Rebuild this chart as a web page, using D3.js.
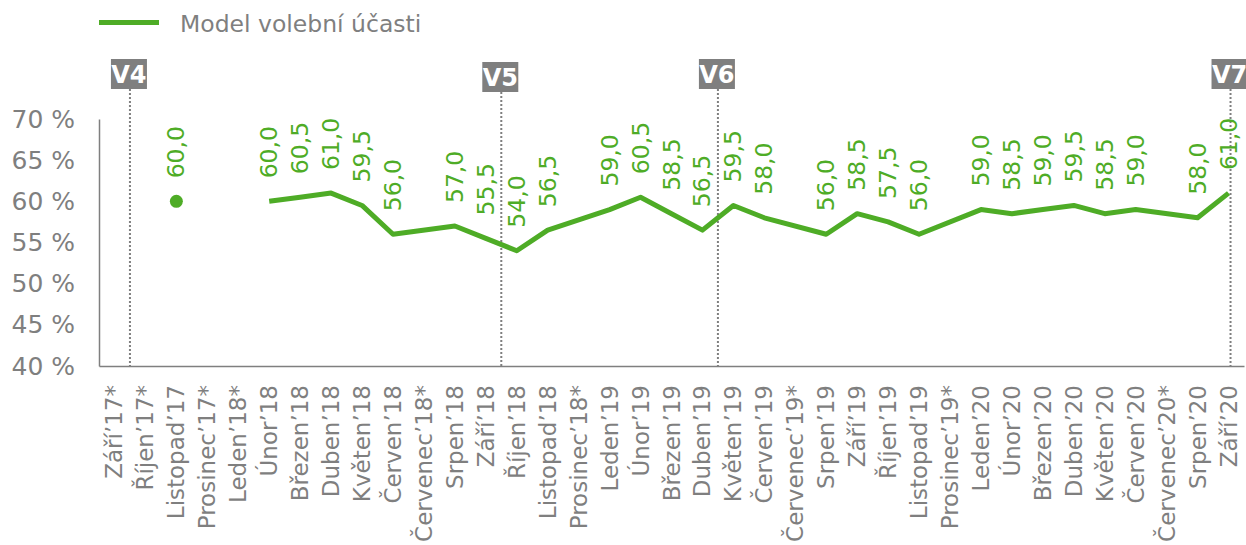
<!DOCTYPE html>
<html>
<head>
<meta charset="utf-8">
<script src="https://cdn.jsdelivr.net/npm/d3@7"></script>
<style>
  body { margin: 0; background: #fff; }
  svg text { font-family: "DejaVu Sans", Verdana, sans-serif; }
</style>
</head>
<body>
<div id="chart"></div>
<script>
// categories (months), * = no survey that month
var months = ["Září’17*", "Říjen’17*", "Listopad’17", "Prosinec’17*", "Leden’18*", "Únor’18",
    "Březen’18", "Duben’18", "Květen’18", "Červen’18", "Červenec’18*", "Srpen’18", "Září’18",
    "Říjen’18", "Listopad’18", "Prosinec’18*", "Leden’19", "Únor’19", "Březen’19", "Duben’19",
    "Květen’19", "Červen’19", "Červenec’19*", "Srpen’19", "Září’19", "Říjen’19", "Listopad’19",
    "Prosinec’19*", "Leden’20", "Únor’20", "Březen’20", "Duben’20", "Květen’20", "Červen’20",
    "Červenec’20*", "Srpen’20", "Září’20"];

// model volební účasti (%)
var turnout = [null, null, 60.0, null, null, 60.0,
    60.5, 61.0, 59.5, 56.0, null, 57.0, 55.5,
    54.0, 56.5, null, 59.0, 60.5, 58.5, 56.5,
    59.5, 58.0, null, 56.0, 58.5, 57.5, 56.0,
    null, 59.0, 58.5, 59.0, 59.5, 58.5, 59.0,
    null, 58.0, 61.0];

var yTicks = [40, 45, 50, 55, 60, 65, 70];

// vlny výzkumu
var waveNames = ["V4", "V5", "V6", "V7"];
var waveAt = ["Září’17*", "Září’18", "Duben’19", "Září’20"];
var waveBetween = [true, true, true, false];

var seriesName = "Model volební účasti";

var width = 1246,
    height = 545;
var green = "#4eac26",
    grey = "#7f7f7f";

var svg = d3.select("#chart")
    .append("svg")
    .attr("width", width)
    .attr("height", height);

var x = d3.scaleBand()
    .domain(months)
    .range([99, 1244]);

var y = d3.scaleLinear()
    .domain([40, 70])
    .range([366, 119]);

function cx(m) {
    return x(m) + x.bandwidth() / 2;
}

// legend
svg.append("line")
    .attr("x1", 99).attr("x2", 159)
    .attr("y1", 22.5).attr("y2", 22.5)
    .attr("stroke", green)
    .attr("stroke-width", 5);
svg.append("text")
    .attr("x", 180).attr("y", 24)
    .attr("dominant-baseline", "central")
    .attr("fill", grey)
    .style("font-size", "23.5px")
    .text(seriesName);

// y axis
var yAxis = svg.append("g")
    .attr("transform", "translate(99,0)")
    .call(d3.axisLeft(y).tickValues(yTicks).tickSize(0).tickPadding(24)
        .tickFormat(d => d + " %"));
yAxis.select(".domain").attr("stroke", grey).attr("stroke-width", 1.5);
yAxis.selectAll("text")
    .attr("fill", grey)
    .style("font-size", "25px")
    .style("font-family", "DejaVu Sans, Verdana, sans-serif");

// x axis
var xAxis = svg.append("g")
    .attr("transform", "translate(0,366)")
    .call(d3.axisBottom(x).tickSize(0).tickSizeOuter(0));
xAxis.select(".domain").attr("stroke", grey).attr("stroke-width", 1.5);
xAxis.selectAll("text")
    .attr("fill", grey)
    .style("font-size", "23px")
    .style("font-family", "DejaVu Sans, Verdana, sans-serif")
    .attr("text-anchor", "end")
    .attr("dominant-baseline", "central")
    .attr("dy", null)
    .attr("x", -19)
    .attr("y", 0)
    .attr("transform", "rotate(-90)");

// wave markers
waveNames.forEach((w, i) => {
    var px = cx(waveAt[i]) + (waveBetween[i] ? x.step() / 2 : 2);
    var top = w == "V5" ? 62 : 59;
    svg.append("line")
        .attr("x1", px).attr("x2", px)
        .attr("y1", top + 30).attr("y2", 366)
        .attr("stroke", grey)
        .attr("stroke-width", 2)
        .attr("stroke-dasharray", "2,2");
    svg.append("rect")
        .attr("x", px - 19).attr("y", top)
        .attr("width", 36).attr("height", 30)
        .attr("fill", grey);
    svg.append("text")
        .attr("x", px - 1).attr("y", top + 16)
        .attr("text-anchor", "middle")
        .attr("dominant-baseline", "central")
        .attr("fill", "#fff")
        .style("font-weight", "bold")
        .style("font-size", "24px")
        .text(w);
});

// points - split series where more than one month is missing
var pts = [];
months.forEach((m, i) => {
    if (turnout[i] != null) pts.push({ i: i, m: m, v: turnout[i] });
});
var segments = [];
pts.forEach((p, k) => {
    if (k == 0 || p.i - pts[k - 1].i > 2) segments.push([]);
    segments[segments.length - 1].push(p);
});

var line = d3.line()
    .x(d => cx(d.m))
    .y(d => y(d.v));

segments.forEach(seg => {
    if (seg.length == 1) {
        svg.append("circle")
            .attr("cx", cx(seg[0].m))
            .attr("cy", y(seg[0].v))
            .attr("r", 6.5)
            .attr("fill", green);
    } else {
        svg.append("path")
            .datum(seg)
            .attr("d", line)
            .attr("fill", "none")
            .attr("stroke", green)
            .attr("stroke-width", 5)
            .attr("stroke-linejoin", "round");
    }
});

// data labels
svg.selectAll(".lbl")
    .data(pts)
    .enter()
    .append("text")
    .attr("class", "lbl")
    .attr("transform", d => "translate(" + cx(d.m) + "," + (y(d.v) - 23) + ") rotate(-90)")
    .attr("dominant-baseline", "central")
    .attr("fill", green)
    .style("font-size", "23.5px")
    .text(d => d3.format(".1f")(d.v).replace(".", ","));
</script>
</body>
</html>
